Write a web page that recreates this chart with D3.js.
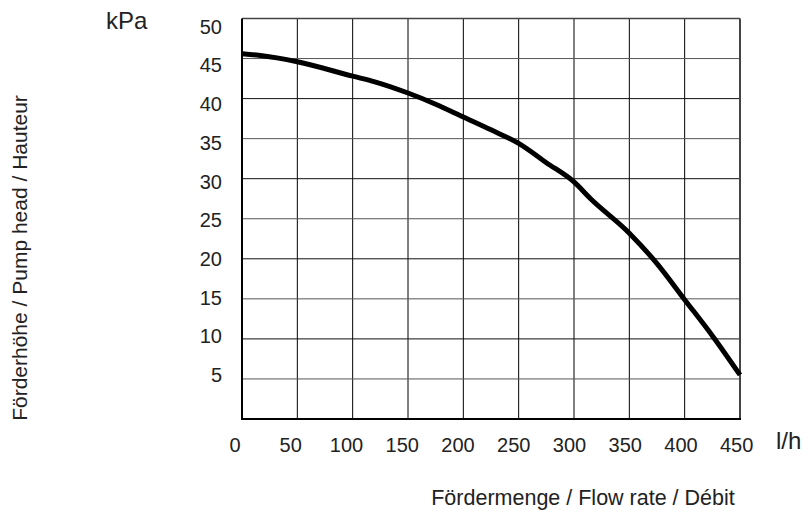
<!DOCTYPE html>
<html>
<head>
<meta charset="utf-8">
<script src="https://cdn.jsdelivr.net/npm/d3@7"></script>
<style>
  body { margin: 0; background: #fff; }
  text { font-family: Arial, "Liberation Sans", sans-serif; fill: #222; }
</style>
</head>
<body>
<div class="canvas"></div>
<script>
// data
const flow = [0, 15, 50, 100, 120, 150, 175, 200, 225, 250, 275, 300, 315, 350, 375, 400, 425, 450];
const head = [45.6, 45.4, 44.6, 42.8, 42.1, 40.7, 39.3, 37.7, 36.1, 34.4, 32.0, 29.6, 27.5, 23.2, 19.4, 14.9, 10.4, 5.5];

const xTicks = [0, 50, 100, 150, 200, 250, 300, 350, 400, 450];
const yTicks = [5, 10, 15, 20, 25, 30, 35, 40, 45, 50];

const data = flow.map((f, i) => ({flow: f, head: head[i]}));

const svg = d3.select('.canvas')
  .append('svg')
    .attr('width', 810)
    .attr('height', 518);

// plot area
const x = d3.scaleLinear().domain([0, 450]).range([242, 740]);
const y = d3.scaleLinear().domain([0, 50]).range([419, 18.5]);

// labels sit a little off the grid in the original
const xLab = d3.scaleLinear().domain([0, 450]).range([235, 736.7]);
const yLab = d3.scaleLinear().domain([5, 50]).range([375, 26.7]);

const grid = svg.append('g');

grid.selectAll('line.v')
  .data(xTicks.slice(1, -1))
  .enter().append('line')
    .attr('x1', d => x(d)).attr('x2', d => x(d))
    .attr('y1', y(50)).attr('y2', y(0))
    .attr('stroke', '#000')
    .attr('stroke-width', 1);

grid.selectAll('line.h')
  .data(yTicks.slice(0, -1))
  .enter().append('line')
    .attr('x1', x(0)).attr('x2', x(450))
    .attr('y1', d => y(d)).attr('y2', d => y(d))
    .attr('stroke', (d, i) => i % 2 ? '#111' : '#555')
    .attr('stroke-width', 1);

// frame
grid.append('line')
  .attr('x1', x(0)).attr('x2', x(450)).attr('y1', y(50)).attr('y2', y(50))
  .attr('stroke', '#444').attr('stroke-width', 1.5);
grid.append('line')
  .attr('x1', x(450)).attr('x2', x(450)).attr('y1', y(50)).attr('y2', y(0))
  .attr('stroke', '#444').attr('stroke-width', 2);
grid.append('line')
  .attr('x1', x(0)).attr('x2', x(0)).attr('y1', y(50)).attr('y2', y(0) + 1)
  .attr('stroke', '#000').attr('stroke-width', 2);
grid.append('line')
  .attr('x1', x(0) - 1).attr('x2', x(450) + 1).attr('y1', y(0)).attr('y2', y(0))
  .attr('stroke', '#000').attr('stroke-width', 2);

// curve
const line = d3.line()
  .x(d => x(d.flow))
  .y(d => y(d.head))
  .curve(d3.curveMonotoneX);

svg.append('path')
  .datum(data)
  .attr('d', line)
  .attr('fill', 'none')
  .attr('stroke', '#000')
  .attr('stroke-width', 5)
  .attr('stroke-linejoin', 'round');

// tick labels
svg.selectAll('text.xt')
  .data(xTicks)
  .enter().append('text')
    .attr('class', 'xt')
    .attr('x', d => xLab(d))
    .attr('y', 452)
    .attr('text-anchor', 'middle')
    .attr('font-size', 20)
    .text(d => d);

svg.selectAll('text.yt')
  .data(yTicks)
  .enter().append('text')
    .attr('class', 'yt')
    .attr('x', 222)
    .attr('y', d => yLab(d))
    .attr('dy', '0.35em')
    .attr('text-anchor', 'end')
    .attr('font-size', 20)
    .text(d => d);

// units and titles
svg.append('text')
  .attr('x', 106).attr('y', 29)
  .attr('font-size', 24)
  .text('kPa');

svg.append('text')
  .attr('x', 776).attr('y', 449)
  .attr('font-size', 24)
  .text('l/h');

svg.append('text')
  .attr('x', 583).attr('y', 505)
  .attr('text-anchor', 'middle')
  .attr('font-size', 21.5)
  .text('Fördermenge / Flow rate / Débit');

svg.append('text')
  .attr('transform', 'translate(27, 258) rotate(-90)')
  .attr('text-anchor', 'middle')
  .attr('font-size', 21)
  .text('Förderhöhe / Pump head / Hauteur');
</script>
</body>
</html>
